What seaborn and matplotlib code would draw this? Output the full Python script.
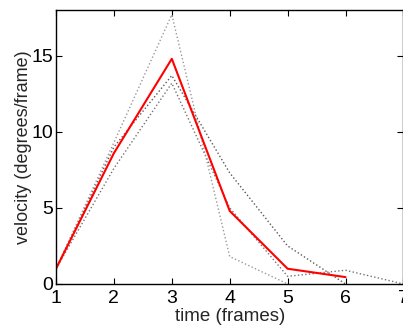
import matplotlib
matplotlib.use('Agg')
import matplotlib.pyplot as plt
import seaborn as sns
import pandas as pd

# trials --------------------------------------------------------
frames_a = [1, 2, 3, 4, 5, 6]
vel_a = [1.0, 9.0, 13.7, 7.3, 2.5, 0.0]

frames_b = [1, 2, 3, 4, 5, 6, 7]
vel_b = [1.0, 7.6, 13.2, 5.0, 0.5, 0.9, 0.0]

frames_c = [1, 2, 3, 4, 5]
vel_c = [1.0, 9.3, 17.7, 1.8, 0.0]

# mean trace
frames_mean = [1, 2, 3, 4, 5, 6]
vel_mean = [1.0, 8.6, 14.8, 4.8, 1.0, 0.45]

x_ticks = [1, 2, 3, 4, 5, 6, 7]
y_ticks = [0, 5, 10, 15]

sns.set_style('ticks')
plt.rcParams['font.family'] = ['Liberation Sans', 'DejaVu Sans']

fig = plt.figure(figsize=(4.03, 3.26), dpi=100)
ax = fig.add_axes([0.139, 0.129, 0.862, 0.840])

trials = [(frames_a, vel_a, '0.35'), (frames_b, vel_b, '0.45'), (frames_c, vel_c, '0.6')]
for fr, v, c in trials:
    df = pd.DataFrame({'time': fr, 'velocity': v})
    sns.lineplot(data=df, x='time', y='velocity', ax=ax, color=c,
                 linestyle=':', linewidth=1.0, estimator=None)

df_mean = pd.DataFrame({'time': frames_mean, 'velocity': vel_mean})
sns.lineplot(data=df_mean, x='time', y='velocity', ax=ax, color='red',
             linewidth=1.5, estimator=None)

ax.set_xlim(1, 7)
ax.set_ylim(0, 18)
ax.set_xticks(x_ticks)
ax.set_yticks(y_ticks)
ax.tick_params(direction='in', length=4, width=0.8, labelsize=14,
               top=True, right=True, colors='black')
ax.tick_params(axis='x', pad=4)
ax.tick_params(axis='y', pad=2)
for s in ax.spines.values():
    s.set_visible(True)
    s.set_linewidth(1.0)
    s.set_color('black')

ax.set_xlabel('time (frames)', fontsize=13.5)
ax.set_ylabel('velocity (degrees/frame)', fontsize=13)
ax.xaxis.set_label_coords(0.5, -0.088)
ax.yaxis.set_label_coords(-0.069, 0.5)

fig.savefig('out.png', dpi=100)
